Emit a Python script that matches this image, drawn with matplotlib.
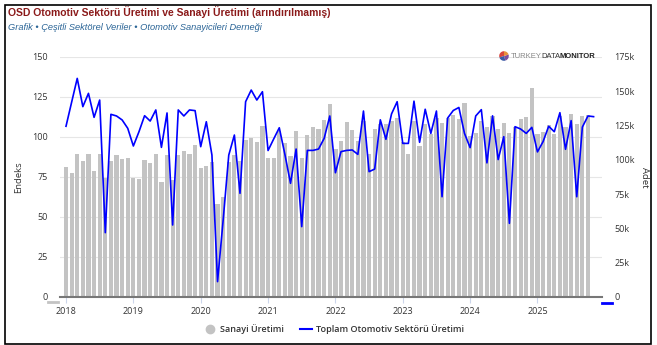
import matplotlib
matplotlib.use("Agg")
import matplotlib.pyplot as plt
from matplotlib.lines import Line2D
from matplotlib.patches import Rectangle
from matplotlib.ticker import FuncFormatter
import numpy as np

# monthly values, Jan 2018 .. Nov 2025
years = ["2018", "2019", "2020", "2021", "2022", "2023", "2024", "2025"]

sanayi = [
    81, 77.5, 89.5, 85, 89.5, 79, 89.5, 74.5, 85, 88.5, 86, 87,            # 2018
    74.5, 74, 85.5, 84, 89.5, 72, 89, 73, 88.5, 91, 89.5, 95,               # 2019
    80.5, 82, 84.5, 58, 62.5, 84.5, 88.5, 85, 98, 99.5, 97, 107,            # 2020
    87, 87, 104, 96, 88, 104, 87, 101, 106.5, 105, 110.8, 120.6,            # 2021
    92.5, 97.8, 109.5, 104.6, 97.8, 110, 89.3, 105.2, 108, 108.2, 110, 112, # 2022
    97, 89.2, 110, 94.4, 108, 102, 112, 109, 111.8, 113.7, 111.2, 121,      # 2023
    100.6, 102.8, 110, 106, 113, 105, 108.5, 102.7, 106.5, 111, 112.3, 130.8,  # 2024
    102, 103, 107.5, 102, 113, 106, 114.2, 108, 113.1, 113.7, np.nan,       # 2025
]

# thousand units
otomotiv_k = [
    124.5, 142, 159.4, 138.8, 148.5, 131, 143.6, 46.9, 133.2, 132, 129.1, 123,
    110.1, 120.5, 132.2, 128.3, 136.4, 109.1, 134.2, 52.5, 136.4, 132, 136.4, 135.9,
    109.6, 127.8, 103.5, 11.2, 56.1, 103.5, 118.1, 75.6, 142.4, 150.9, 143.6, 149.7,
    106.8, 115.2, 123.4, 104, 82.9, 107.9, 51.3, 106.9, 106.9, 107.9, 115.7, 132,
    90.6, 106, 106.9, 107.2, 104, 135.6, 91.4, 93.3, 129.2, 115, 133.5, 142.4,
    112, 112, 142.8, 112.8, 136.9, 119.3, 135.6, 73.1, 130.5, 136, 138.2, 119.3,
    108.9, 132, 136.6, 97.8, 132.1, 100.2, 116.9, 53.7, 124.2, 122.5, 119.3, 123.7,
    105.8, 113.3, 124.5, 120.5, 134.4, 107.7, 128.6, 73.1, 123.9, 132, 131.5,
]

left_ticks = [0, 25, 50, 75, 100, 125, 150]
right_ticks_k = [0, 25, 50, 75, 100, 125, 150, 175]

W, H = 657, 345
fig = plt.figure(figsize=(W / 100, H / 100), dpi=100)
tick_font = "Open Sans"

x = np.arange(len(otomotiv_k))
otomotiv = np.array(otomotiv_k) * 1000

ax = fig.add_axes([60 / W, 1 - 297 / H, 542 / W, 240 / H])
ax.bar(x, sanayi, width=0.75, color="#c3c3c3", zorder=2)
ax.set_xlim(-1.07, 95.5)
ax.set_ylim(0, 150)
ax.set_yticks(left_ticks)
ax.set_xticks(np.arange(len(years)) * 12)
ax.set_xticklabels(years)
ax.grid(axis="y", color="#e6e6e6", lw=0.8, zorder=0)
for s in ["top", "right", "left"]:
    ax.spines[s].set_visible(False)
ax.spines["bottom"].set_color("#777777")
ax.spines["bottom"].set_linewidth(1.5)
ax.spines["bottom"].set_zorder(3)
ax.tick_params(axis="y", length=0, pad=9, labelsize=6.5, labelcolor="#333333")
ax.tick_params(axis="x", length=4, color="#ccd6eb", pad=3, labelsize=6.5,
               labelcolor="#333333")
ax.set_ylabel("Endeks", fontsize=6.8, color="#333333", labelpad=6, family=tick_font)

ax2 = ax.twinx()
ax2.plot(x, otomotiv, color="#0000ff", lw=1.2, zorder=4)
ax2.set_ylim(0, 175000)
ax2.set_yticks([v * 1000 for v in right_ticks_k])
ax2.yaxis.set_major_formatter(FuncFormatter(lambda v, p: "0" if v == 0 else f"{v / 1000:g}k"))
for s in ax2.spines.values():
    s.set_visible(False)
ax2.tick_params(axis="y", length=0, pad=9, labelsize=6.5, labelcolor="#333333")
ax2.set_ylabel("Adet", fontsize=6.8, color="#333333", rotation=270, labelpad=10,
               family=tick_font)

for a in (ax, ax2):
    for lab in a.get_xticklabels() + a.get_yticklabels():
        lab.set_family(tick_font)

# title block
fig.text(8 / W, 1 - 12 / H, "OSD Otomotiv Sektörü Üretimi ve Sanayi Üretimi (arındırılmamış)",
         family="Liberation Sans", fontsize=7.5, fontweight="bold", color="#8b1a1a",
         va="center", ha="left")
fig.text(8 / W, 1 - 28 / H, "Grafik • Çeşitli Sektörel Veriler • Otomotiv Sanayicileri Derneği",
         family="Liberation Sans", fontsize=6.7, style="italic", color="#2a6496",
         va="center", ha="left")

# logo: pie icon + three text pieces placed one after another
lax = fig.add_axes([498 / W, 1 - 62 / H, 12 / W, 12 / H])
lax.pie([30, 25, 25, 20], colors=["#d9453d", "#3b5ba5", "#7b4fa0", "#e8913a"],
        startangle=90)
lax.set_aspect("equal")
ly = 1 - 56 / H
renderer = fig.canvas.get_renderer()
xpos = 511
for word, col, wt in [("TURKEY", "#888888", "normal"), ("DATA", "#333333", "normal"),
                      ("MONITOR", "#222222", "bold")]:
    t = fig.text(xpos / W, ly, word, family="Liberation Sans", fontsize=5.5, color=col,
                 fontweight=wt, va="center", ha="left")
    xpos += t.get_window_extent(renderer).width - 1

# axis colour markers
fig.add_artist(Line2D([48 / W, 58 / W], [1 - 302 / H] * 2, color="#c3c3c3", lw=2))
fig.add_artist(Line2D([602 / W, 612 / W], [1 - 303 / H] * 2, color="#0000ff", lw=2))

# legend
handles = [
    Line2D([], [], ls="none", marker="o", ms=6, color="#c3c3c3"),
    Line2D([], [], color="#0000ff", lw=1.5),
]
fig.legend(handles, ["Sanayi Üretimi", "Toplam Otomotiv Sektörü Üretimi"],
           loc="center", bbox_to_anchor=(334 / W, 1 - 329 / H), ncol=2, frameon=False,
           prop={"family": tick_font, "size": 6.5, "weight": "semibold"},
           labelcolor="#333333", handlelength=1.3, columnspacing=1.8, handletextpad=0.5)

fig.add_artist(Rectangle((5 / W, 1 / H), 646 / W, 339 / H, fill=False,
                         edgecolor="black", lw=1.2, transform=fig.transFigure))

fig.savefig("out.png", dpi=100)
plt.close(fig)
